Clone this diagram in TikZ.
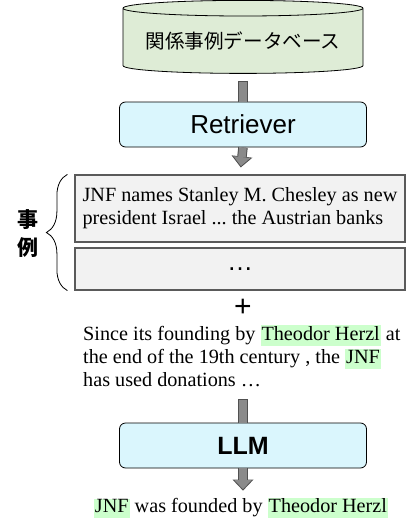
\documentclass[tikz,border=0pt]{standalone}
\usepackage{fontspec}
\setmainfont{Liberation Serif}
\newfontfamily\uifont{Liberation Sans}
\newfontfamily\jpfont{Noto Sans CJK JP}
\usepackage{xcolor}
\usetikzlibrary{shapes,arrows.meta,positioning,calc,decorations.pathreplacing}

\definecolor{dbgreen}{RGB}{222,236,214}
\definecolor{procblue}{RGB}{218,246,253}
\definecolor{casegray}{RGB}{242,242,242}
\definecolor{caseedge}{RGB}{90,90,90}
\definecolor{arrowgray}{RGB}{138,138,138}
\definecolor{arrowdark}{RGB}{80,80,80}
\definecolor{hlgreen}{RGB}{204,255,204}

% green marker behind entity names
\newcommand{\hlword}[1]{{\setlength{\fboxsep}{1pt}\colorbox{hlgreen}{\vphantom{Jy}#1}}}
\frenchspacing

\begin{document}
\begin{tikzpicture}[x=1pt, y=1pt]
% Define styles
\tikzstyle{database} = [cylinder, shape border rotate=90, aspect=0.08, draw, line width=0.8pt, fill=dbgreen, minimum width=240pt, minimum height=73pt, inner sep=0pt, font=\jpfont\fontsize{19.6}{22}\selectfont]
\tikzstyle{model} = [rectangle, draw, line width=0.8pt, fill=procblue, rounded corners=6pt, minimum width=247pt, minimum height=45pt, font=\uifont\fontsize{26}{30}\selectfont]
\tikzstyle{casebox} = [rectangle, draw=caseedge, line width=1.2pt, fill=casegray, minimum width=330pt, inner xsep=4pt, align=left, font=\fontsize{20.2}{23.2}\selectfont]
\tikzstyle{plaintext} = [inner sep=0pt, align=left, font=\fontsize{20.2}{23.2}\selectfont]
\tikzstyle{casebrace} = [decorate, decoration={brace, amplitude=21pt}, line width=0.8pt]
\tikzstyle{shaftedge} = [draw=arrowdark, line width=9.5pt]
\tikzstyle{shaftfill} = [draw=arrowgray, line width=7.5pt]
\tikzstyle{headedge} = [shaftedge, -{Triangle[width=21pt, length=11pt, line width=0pt]}]
\tikzstyle{headfill} = [shaftfill, -{Triangle[width=17pt, length=9pt, line width=0pt]}]

\useasboundingbox (0,0) rectangle (406,-519);

% Retrieval part
\node[database] (db) at (243,-41) {関係事例データベース};
\node[model] (retr) at (243,-124.5) {Retriever};

% Retrieved cases
\node[casebox, minimum height=67pt] (case1) at (240,-208.5) {JNF names Stanley M. Chesley as new\\president Israel ... the Austrian banks};
\node[casebox, minimum height=42pt, align=center, font=\uifont\fontsize{26}{26}\selectfont] (case2) at (240,-269) {…};
\draw[casebrace] ([xshift=-7pt]case2.south west) -- ([xshift=-7pt]case1.north west);
\node[inner sep=0pt, align=center, font=\jpfont\bfseries\fontsize{21}{28}\selectfont] (cases) at (28,-234) {事\\例};

% Query sentence
\node[inner sep=0pt, font=\uifont\fontsize{30}{30}\selectfont] (plus) at (243,-308) {+};
\node[plaintext, anchor=north west] (query) at (83,-325) {Since its founding by \hlword{Theodor Herzl} at\\the end of the 19th century , the \hlword{JNF}\\has used donations …};

% Generation
\node[model, font=\uifont\bfseries\fontsize{25}{30}\selectfont] (llm) at (243,-445.5) {LLM};
\node[plaintext] (answer) at (241,-508) {\hlword{JNF} was founded by \hlword{Theodor Herzl}};

% Connections
\draw[shaftedge, shorten <=7pt] (db.south) -- (retr.north);
\draw[shaftfill, shorten <=8pt] (db.south) -- (retr.north);
\draw[headedge, shorten >=7pt] (retr.south) -- (case1.north);
\draw[headfill, shorten >=8.4pt] (retr.south) -- (case1.north);
\draw[shaftedge, shorten <=12pt] (query.south -| llm.north) -- (llm.north);
\draw[shaftfill, shorten <=13pt] (query.south -| llm.north) -- (llm.north);
\draw[headedge, shorten >=7pt] (llm.south) -- (answer.north -| llm.south);
\draw[headfill, shorten >=8.4pt] (llm.south) -- (answer.north -| llm.south);

\end{tikzpicture}
\end{document}
